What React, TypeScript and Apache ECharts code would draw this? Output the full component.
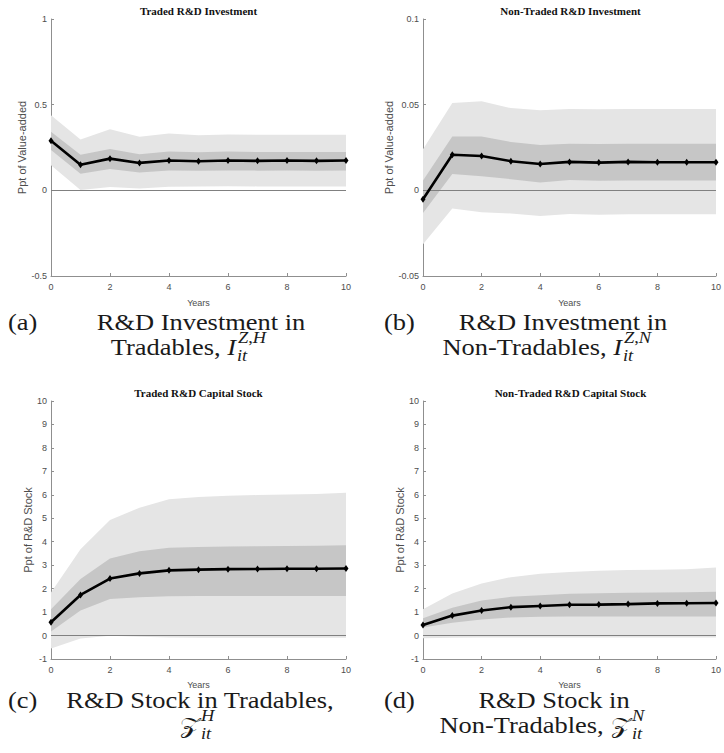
import React, { useEffect, useRef } from "react";
import * as echarts from "echarts";

// ---------- data ----------
const years = [0, 1, 2, 3, 4, 5, 6, 7, 8, 9, 10];

// (a) Traded R&D Investment
const invTradedMedian = [0.29, 0.149, 0.185, 0.16, 0.174, 0.17, 0.174, 0.172, 0.174, 0.172, 0.174];
const invTradedDarkUp = [0.342, 0.207, 0.241, 0.21, 0.226, 0.222, 0.226, 0.224, 0.224, 0.224, 0.224];
const invTradedDarkLo = [0.236, 0.097, 0.124, 0.104, 0.116, 0.114, 0.116, 0.115, 0.116, 0.115, 0.116];
const invTradedLightUp = [0.438, 0.297, 0.356, 0.313, 0.332, 0.322, 0.326, 0.324, 0.324, 0.324, 0.324];
const invTradedLightLo = [0.147, 0.002, 0.019, 0.01, 0.021, 0.023, 0.024, 0.023, 0.023, 0.023, 0.023];

// (b) Non-Traded R&D Investment
const invNonTradedMedian = [-0.0052, 0.0208, 0.02, 0.017, 0.0154, 0.0166, 0.0162, 0.0166, 0.0164, 0.0164, 0.0164];
const invNonTradedDarkUp = [0.0057, 0.0314, 0.0314, 0.0282, 0.0265, 0.0272, 0.027, 0.0272, 0.0272, 0.0272, 0.0272];
const invNonTradedDarkLo = [-0.0132, 0.0096, 0.0082, 0.0065, 0.0046, 0.006, 0.0056, 0.0058, 0.0058, 0.0058, 0.0058];
const invNonTradedLightUp = [0.024, 0.051, 0.052, 0.048, 0.0468, 0.0475, 0.0473, 0.0475, 0.0475, 0.0475, 0.0475];
const invNonTradedLightLo = [-0.0315, -0.0106, -0.0128, -0.0135, -0.015, -0.0138, -0.0142, -0.014, -0.014, -0.014, -0.014];

// (c) Traded R&D Capital Stock
const stockTradedMedian = [0.57, 1.73, 2.43, 2.65, 2.78, 2.81, 2.83, 2.84, 2.85, 2.85, 2.86];
const stockTradedDarkUp = [1.12, 2.41, 3.28, 3.59, 3.74, 3.78, 3.8, 3.81, 3.82, 3.83, 3.85];
const stockTradedDarkLo = [0.17, 1.07, 1.56, 1.63, 1.68, 1.69, 1.69, 1.69, 1.69, 1.69, 1.69];
const stockTradedLightUp = [1.83, 3.68, 4.93, 5.45, 5.81, 5.91, 5.96, 5.99, 6.01, 6.03, 6.09];
const stockTradedLightLo = [-0.55, -0.13, -0.01, -0.05, -0.08, -0.09, -0.09, -0.09, -0.09, -0.09, -0.09];

// (d) Non-Traded R&D Capital Stock
const stockNonTradedMedian = [0.45, 0.85, 1.07, 1.21, 1.26, 1.31, 1.32, 1.34, 1.37, 1.38, 1.39];
const stockNonTradedDarkUp = [0.74, 1.19, 1.49, 1.65, 1.72, 1.78, 1.8, 1.82, 1.84, 1.85, 1.87];
const stockNonTradedDarkLo = [0.34, 0.55, 0.68, 0.77, 0.8, 0.81, 0.81, 0.81, 0.81, 0.81, 0.81];
const stockNonTradedLightUp = [1.12, 1.79, 2.22, 2.49, 2.63, 2.71, 2.76, 2.79, 2.81, 2.83, 2.9];
const stockNonTradedLightLo = [-0.12, -0.09, -0.08, -0.08, -0.08, -0.08, -0.08, -0.08, -0.08, -0.08, -0.08];

const panelTitles = [
  "Traded R&D Investment",
  "Non-Traded R&D Investment",
  "Traded R&D Capital Stock",
  "Non-Traded R&D Capital Stock",
];
const yAxisNames = ["Ppt of Value-added", "Ppt of Value-added", "Ppt of R&D Stock", "Ppt of R&D Stock"];
const yMins = [-0.5, -0.05, -1, -1];
const yMaxs = [1, 0.1, 10, 10];
const yIntervals = [0.5, 0.05, 1, 1];
const xAxisName = "Years";

const medians = [invTradedMedian, invNonTradedMedian, stockTradedMedian, stockNonTradedMedian];
const darkUps = [invTradedDarkUp, invNonTradedDarkUp, stockTradedDarkUp, stockNonTradedDarkUp];
const darkLos = [invTradedDarkLo, invNonTradedDarkLo, stockTradedDarkLo, stockNonTradedDarkLo];
const lightUps = [invTradedLightUp, invNonTradedLightUp, stockTradedLightUp, stockNonTradedLightUp];
const lightLos = [invTradedLightLo, invNonTradedLightLo, stockTradedLightLo, stockNonTradedLightLo];

// ---------- layout ----------
const W = 724;
const H = 753;
const gridLayouts = [
  { left: 51, top: 19, width: 295, height: 257, nameGap: 18, xNameGap: 22 },
  { left: 423, top: 19, width: 295, height: 257, nameGap: 23, xNameGap: 22 },
  { left: 51, top: 401, width: 295, height: 258, nameGap: 15, xNameGap: 21 },
  { left: 423, top: 401, width: 295, height: 258, nameGap: 16, xNameGap: 21 },
];

const SANS = "'Liberation Sans', Arial, sans-serif";
const SERIF = "'Liberation Serif', 'Times New Roman', serif";
const AXIS_COLOR = "#8f8f8f";
const LABEL_COLOR = "#4d4d4d";
const LIGHT = "#e5e5e5";
const DARK = "#c6c6c6";

function pairs(vals: number[]) {
  return years.map((x, k) => [x, vals[k]]);
}
function bandData(lo: number[], up: number[]) {
  return years.map((x, k) => [x, lo[k], up[k]]);
}

function bandSeries(i: number, lo: number[], up: number[], color: string, z: number) {
  return {
    type: "custom",
    xAxisIndex: i,
    yAxisIndex: i,
    silent: true,
    z,
    data: bandData(lo, up),
    encode: { x: 0, y: [1, 2] },
    renderItem: (params: any, api: any) => {
      if (params.dataIndex !== 0) return null;
      const pts: number[][] = [];
      for (let k = 0; k < years.length; k++) pts.push(api.coord([years[k], up[k]]));
      for (let k = years.length - 1; k >= 0; k--) pts.push(api.coord([years[k], lo[k]]));
      return { type: "polygon", shape: { points: pts }, style: { fill: color, stroke: null } };
    },
  };
}

function capText(text: string, x: number, y: number, size: number, align: string, rich?: any, family?: string) {
  return {
    type: "text",
    x,
    y,
    scaleX: 1.15,
    silent: true,
    style: {
      text,
      font: `${size}px ${family || SERIF}`,
      fontSize: size,
      fontFamily: family || SERIF,
      fill: "#1a1a1a",
      textAlign: align,
      align,
      textVerticalAlign: "middle",
      verticalAlign: "middle",
      rich,
    },
  };
}

function buildOption() {
  const grids: any[] = [];
  const xAxes: any[] = [];
  const yAxes: any[] = [];
  const series: any[] = [];
  const graphics: any[] = [];

  gridLayouts.forEach((g, i) => {
    grids.push({ left: g.left, top: g.top, width: g.width, height: g.height, containLabel: false });
    xAxes.push({
      gridIndex: i,
      type: "value",
      min: 0,
      max: 10,
      interval: 2,
      name: xAxisName,
      nameLocation: "middle",
      nameGap: g.xNameGap,
      nameTextStyle: { color: LABEL_COLOR, fontSize: 9, fontFamily: SANS },
      axisLine: { show: true, onZero: false, lineStyle: { color: AXIS_COLOR, width: 1 } },
      axisTick: { show: true, inside: true, length: 3, lineStyle: { color: AXIS_COLOR } },
      axisLabel: { color: LABEL_COLOR, fontSize: 9, fontFamily: SANS, margin: 6 },
      splitLine: { show: false },
    });
    yAxes.push({
      gridIndex: i,
      type: "value",
      min: yMins[i],
      max: yMaxs[i],
      interval: yIntervals[i],
      name: yAxisNames[i],
      nameLocation: "middle",
      nameRotate: 90,
      nameGap: g.nameGap,
      nameTextStyle: { color: LABEL_COLOR, fontSize: 11, fontFamily: SANS },
      axisLine: { show: true, onZero: false, lineStyle: { color: AXIS_COLOR, width: 1 } },
      axisTick: { show: true, inside: true, length: 3, lineStyle: { color: AXIS_COLOR } },
      axisLabel: { color: LABEL_COLOR, fontSize: 9, fontFamily: SANS, margin: 4 },
      splitLine: { show: false },
    });

    series.push(bandSeries(i, lightLos[i], lightUps[i], LIGHT, 1));
    series.push(bandSeries(i, darkLos[i], darkUps[i], DARK, 2));
    // zero reference line
    series.push({
      type: "line",
      xAxisIndex: i,
      yAxisIndex: i,
      name: `zero${i}`,
      data: pairs(medians[i]),
      symbol: "none",
      lineStyle: { width: 0, opacity: 0 },
      silent: true,
      z: 3,
      markLine: {
        silent: true,
        symbol: "none",
        label: { show: false },
        lineStyle: { color: "#808080", width: 1, type: "solid" },
        data: [{ yAxis: 0 }],
      },
    });
    series.push({
      xAxisIndex: i,
      yAxisIndex: i,
      type: "line",
      name: `median${i}`,
      data: pairs(medians[i]),
      symbol: "diamond",
      symbolSize: [5, 7],
      itemStyle: { color: "#000" },
      lineStyle: { color: "#000", width: 2.6 },
      silent: true,
      z: 5,
    });

    graphics.push({
      type: "text",
      x: g.left + g.width / 2,
      y: g.top - 8,
      silent: true,
      style: {
        text: panelTitles[i],
        font: `bold 11px ${SERIF}`,
        fontSize: 11,
        fontWeight: "bold",
        fontFamily: SERIF,
        fill: "#111",
        textAlign: "center",
        align: "center",
        textVerticalAlign: "middle",
        verticalAlign: "middle",
      },
    });
  });

  const it = { fontStyle: "italic", fontSize: 23, fontFamily: SERIF };
  const itSmall = { fontStyle: "italic", fontSize: 16, fontFamily: SERIF };
  const up = { fontSize: 16, fontFamily: SERIF };
  const scr = { fontSize: 23, fontFamily: "'DejaVu Serif', 'DejaVu Sans', serif" };

  // (a)
  graphics.push(capText("(a)", 8, 322, 23, "left"));
  graphics.push(capText("R&D Investment in", 201, 322, 23, "center"));
  graphics.push(capText("Tradables, {i|I}", 236, 347, 23, "right", { i: it }));
  graphics.push(capText("{i|Z}{u|,}{i|H}", 238, 338, 16, "left", { i: itSmall, u: up }));
  graphics.push(capText("{i|it}", 237, 356, 16, "left", { i: itSmall }));
  // (b)
  graphics.push(capText("(b)", 384, 322, 23, "left"));
  graphics.push(capText("R&D Investment in", 563, 322, 23, "center"));
  graphics.push(capText("Non-Tradables, {i|I}", 622, 347, 23, "right", { i: it }));
  graphics.push(capText("{i|Z}{u|,}{i|N}", 624, 338, 16, "left", { i: itSmall, u: up }));
  graphics.push(capText("{i|it}", 623, 356, 16, "left", { i: itSmall }));
  // (c)
  graphics.push(capText("(c)", 8, 700, 23, "left"));
  graphics.push(capText("R&D Stock in Tradables,", 200, 700, 23, "center"));
  graphics.push(capText("{s|𝒵}", 200, 725, 23, "right", { s: scr }));
  graphics.push(capText("{i|H}", 201, 716, 16, "left", { i: itSmall }));
  graphics.push(capText("{i|it}", 201, 734, 16, "left", { i: itSmall }));
  // (d)
  graphics.push(capText("(d)", 384, 700, 23, "left"));
  graphics.push(capText("R&D Stock in", 554, 700, 23, "center"));
  graphics.push(capText("Non-Tradables, {s|𝒵}", 631, 725, 23, "right", { s: scr }));
  graphics.push(capText("{i|N}", 632, 716, 16, "left", { i: itSmall }));
  graphics.push(capText("{i|it}", 632, 734, 16, "left", { i: itSmall }));

  return {
    animation: false,
    backgroundColor: "#ffffff",
    grid: grids,
    xAxis: xAxes,
    yAxis: yAxes,
    series,
    graphic: graphics,
  };
}

export default function App() {
  const ref = useRef<HTMLDivElement>(null);
  useEffect(() => {
    if (!ref.current) return;
    const chart = echarts.init(ref.current, null, { renderer: "svg", width: W, height: H });
    chart.setOption(buildOption() as any);
    return () => chart.dispose();
  }, []);
  return (
    <div
      ref={ref}
      style={{ position: "fixed", left: 0, top: 0, width: W, height: H, background: "#fff" }}
    />
  );
}
